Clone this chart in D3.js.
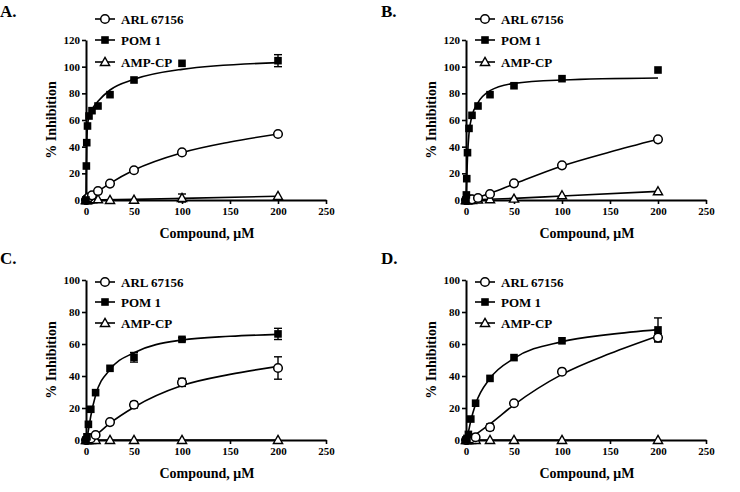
<!DOCTYPE html>
<html><head><meta charset="utf-8">
<script src="https://cdn.jsdelivr.net/npm/d3@7"></script>
<style>
body{margin:0;background:#fff;}
svg{display:block;font-family:"Liberation Serif","Times New Roman",serif;font-weight:bold;}
</style></head>
<body><svg id="c" width="740" height="492"></svg>
<script>
// ---- data ----
const panelLabels = ["A.", "B.", "C.", "D."];
const seriesNames = ["ARL 67156", "POM 1", "AMP-CP"];
const xTicks = [0, 50, 100, 150, 200, 250];
const yTicksAB = [0, 20, 40, 60, 80, 100, 120];
const yTicksCD = [0, 20, 40, 60, 80, 100];

const concAB = [0, 0.39, 0.78, 1.56, 3.125, 6.25, 12.5, 25, 50, 100, 200];
const concCD = [0, 1, 2.5, 5, 10, 25, 50, 100, 200];

const A_arl = [0, 0, 0.5, 1, 2, 3.5, 6.7, 12.3, 22.3, 35.7, 49.5];
const A_pom = [0, 25.5, 43, 55.5, 63, 67, 70.5, 79, 90, 102.5, 104.5];
const A_amp = [0, 0, 0, 0, 0.3, 0.5, 0.5, 0, 0.2, 1.5, 3];
const A_pomErr = [0, 0, 0, 0, 0, 0, 0, 0, 0, 0, 4.5];
const A_ampErr = [0, 0, 0, 0, 0, 0, 0, 0, 0, 3, 0];

const B_arl = [0, 0, 0, 0.3, 0.5, 0.5, 1.5, 4.5, 12.5, 26, 45.5];
const B_pom = [0, 3.8, 16, 35.5, 53.7, 63.5, 70.5, 79, 85.7, 91, 97.5];
const B_amp = [0, 0, 0, 0, 0, 0, 0.3, 0.5, 1, 3.5, 6.5];

const C_arl = [0, 0, 0.5, 1, 3.1, 11.2, 22, 36, 45];
const C_pom = [0, 2, 9.8, 19.2, 29.6, 44.8, 51.7, 62.9, 66.3];
const C_amp = [0, 0, 0, 0, 0, 0, 0, 0, 0];
const C_arlErr = [0, 0, 0, 0, 0, 0, 2, 2.5, 7];
const C_pomErr = [0, 0, 0, 0, 0, 0, 3, 1, 3.5];

const D_arl = [0, 0, 0.5, 1, 1.7, 8, 23, 42.7, 64];
const D_pom = [0, 1, 3.5, 13.1, 23, 38.5, 51.5, 62, 68.8];
const D_amp = [0, 0, 0, 0, 0, 0, 0, 0, 0];
const D_arlErr = [0, 0, 0, 0, 0, 2, 0, 0, 2.5];
const D_pomErr = [0, 0, 0, 0, 0, 0, 0, 0, 7.5];

// fitted curves
const A_arlFitX = [0, 6.25, 12.5, 25, 50, 100, 150, 200];
const A_arlFit = [0, 3.5, 6.5, 12.5, 22.5, 35.5, 43.5, 49.5];
const A_pomFitX = [0, 0.39, 0.78, 1.56, 3.125, 6.25, 12.5, 25, 50, 100, 200];
const A_pomFit = [0, 25, 42, 55, 63, 68, 74, 82.5, 90.5, 98, 103];
const A_ampFitX = [0, 50, 100, 200];
const A_ampFit = [0, 0.5, 1.2, 2.8];

const B_arlFitX = [0, 12.5, 25, 50, 100, 150, 200];
const B_arlFit = [0, 2, 5, 12, 25.5, 36, 45.5];
const B_pomFitX = [0, 0.78, 1.56, 3.125, 6.25, 12.5, 25, 50, 100, 200];
const B_pomFit = [0, 16, 32, 50, 63, 73, 82, 87.5, 90, 91.5];
const B_ampFitX = [0, 50, 100, 200];
const B_ampFit = [0, 1.2, 3, 6.5];

const C_arlFitX = [0, 5, 10, 25, 50, 100, 150, 200];
const C_arlFit = [0, 1, 3, 10.5, 20.5, 34, 41, 46];
const C_pomFitX = [0, 1, 2.5, 5, 10, 25, 50, 100, 150, 200];
const C_pomFit = [0, 1, 6, 15, 28, 44, 54.5, 62.5, 64.8, 66];
const C_ampFitX = [0, 200];
const C_ampFit = [0, 0];

const D_arlFitX = [0, 10, 25, 50, 100, 150, 200];
const D_arlFit = [0, 3.5, 10, 22, 41, 54, 65];
const D_pomFitX = [0, 2.5, 5, 10, 25, 50, 100, 150, 200];
const D_pomFit = [0, 5, 12, 22.5, 38.5, 51, 61.5, 66, 69];
const D_ampFitX = [0, 200];
const D_ampFit = [0, 0];

// ---- layout ----
const panels = [
  {label: panelLabels[0], ox: 86, oy: 200, top: 40, ymax: 120, yTicks: yTicksAB, conc: concAB,
   series: [[A_arl, null], [A_pom, A_pomErr], [A_amp, A_ampErr]],
   fits: [[A_arlFitX, A_arlFit], [A_pomFitX, A_pomFit], [A_ampFitX, A_ampFit]],
   legY: [19, 40, 62], lx: 0, ly: 17},
  {label: panelLabels[1], ox: 466, oy: 200, top: 40, ymax: 120, yTicks: yTicksAB, conc: concAB,
   series: [[B_arl, null], [B_pom, null], [B_amp, null]],
   fits: [[B_arlFitX, B_arlFit], [B_pomFitX, B_pomFit], [B_ampFitX, B_ampFit]],
   legY: [19, 40, 62], lx: 381, ly: 17},
  {label: panelLabels[2], ox: 86, oy: 440, top: 280, ymax: 100, yTicks: yTicksCD, conc: concCD,
   series: [[C_arl, C_arlErr], [C_pom, C_pomErr], [C_amp, null]],
   fits: [[C_arlFitX, C_arlFit], [C_pomFitX, C_pomFit], [C_ampFitX, C_ampFit]],
   legY: [282, 302, 323], lx: 0, ly: 264},
  {label: panelLabels[3], ox: 466, oy: 440, top: 280, ymax: 100, yTicks: yTicksCD, conc: concCD,
   series: [[D_arl, D_arlErr], [D_pom, D_pomErr], [D_amp, null]],
   fits: [[D_arlFitX, D_arlFit], [D_pomFitX, D_pomFit], [D_ampFitX, D_ampFit]],
   legY: [282, 302, 323], lx: 381, ly: 264}
];

const svg = d3.select("#c");

function drawMarker(g, kind, cx, cy) {
  if (kind === 0) {
    g.append("circle").attr("cx", cx).attr("cy", cy).attr("r", 4.3)
      .attr("fill", "#fff").attr("stroke", "#000").attr("stroke-width", 1.5);
  } else if (kind === 1) {
    g.append("rect").attr("x", cx - 3.8).attr("y", cy - 3.8).attr("width", 7.6).attr("height", 7.6)
      .attr("fill", "#000");
  } else {
    const s = 4.6;
    g.append("path").attr("d", `M${cx},${cy - s}L${cx + s},${cy + s * 0.75}L${cx - s},${cy + s * 0.75}Z`)
      .attr("fill", "#fff").attr("stroke", "#000").attr("stroke-width", 1.4);
  }
}

panels.forEach(p => {
  const x = d3.scaleLinear().domain([0, 250]).range([p.ox, p.ox + 240]);
  const y = d3.scaleLinear().domain([0, p.ymax]).range([p.oy, p.top]);
  const g = svg.append("g");

  // panel label
  g.append("text").attr("x", p.lx).attr("y", p.ly).attr("font-size", 17).text(p.label);

  // axes
  const xa = g.append("g").attr("transform", `translate(0,${p.oy})`)
    .call(d3.axisBottom(x).tickValues(xTicks).tickSize(4).tickSizeOuter(0).tickPadding(3));
  const ya = g.append("g").attr("transform", `translate(${p.ox},0)`)
    .call(d3.axisLeft(y).tickValues(p.yTicks).tickSize(4).tickSizeOuter(0).tickPadding(2));
  [xa, ya].forEach(a => {
    a.select(".domain").attr("stroke-width", 2);
    a.selectAll(".tick line").attr("stroke-width", 1.6);
    a.selectAll("text").attr("font-size", 11).attr("font-family", "Liberation Serif, serif").attr("font-weight", "bold").attr("fill", "#000");
  });

  // axis titles
  g.append("text").attr("x", p.ox + 121).attr("y", p.oy + 38).attr("text-anchor", "middle")
    .attr("font-size", 14).text("Compound, μM");
  g.append("text").attr("transform", `translate(${p.ox - 30},${(p.oy + p.top) / 2}) rotate(-90)`)
    .attr("text-anchor", "middle").attr("font-size", 14).text("% Inhibition");

  // fit curves
  const line = d3.line().x(d => x(d[0])).y(d => y(d[1])).curve(d3.curveMonotoneX);
  p.fits.forEach(f => {
    const pts = f[0].map((v, i) => [v, f[1][i]]);
    g.append("path").attr("d", line(pts)).attr("fill", "none").attr("stroke", "#000").attr("stroke-width", 1.6);
  });

  // error bars
  p.series.forEach(s => {
    const vals = s[0], errs = s[1];
    if (!errs) return;
    vals.forEach((v, i) => {
      const e = errs[i];
      if (!e) return;
      const cx = x(p.conc[i]);
      g.append("line").attr("x1", cx).attr("x2", cx).attr("y1", y(v - e)).attr("y2", y(v + e))
        .attr("stroke", "#000").attr("stroke-width", 1.4);
      [v - e, v + e].forEach(yy => g.append("line").attr("x1", cx - 4).attr("x2", cx + 4)
        .attr("y1", y(yy)).attr("y2", y(yy)).attr("stroke", "#000").attr("stroke-width", 1.4));
    });
  });

  // markers (draw AMP-CP, ARL, then POM on top)
  [2, 0, 1].forEach(k => {
    const vals = p.series[k][0];
    vals.forEach((v, i) => drawMarker(g, k, x(p.conc[i]), y(v)));
  });

  // legend
  seriesNames.forEach((name, k) => {
    const ly = p.legY[k];
    const lx0 = p.ox + 9;
    g.append("line").attr("x1", lx0).attr("x2", lx0 + 20).attr("y1", ly).attr("y2", ly)
      .attr("stroke", "#000").attr("stroke-width", 1.6);
    drawMarker(g, k, lx0 + 10, ly);
    g.append("text").attr("x", lx0 + 26).attr("y", ly + 4.5).attr("font-size", 13).text(name);
  });
});
</script></body></html>
